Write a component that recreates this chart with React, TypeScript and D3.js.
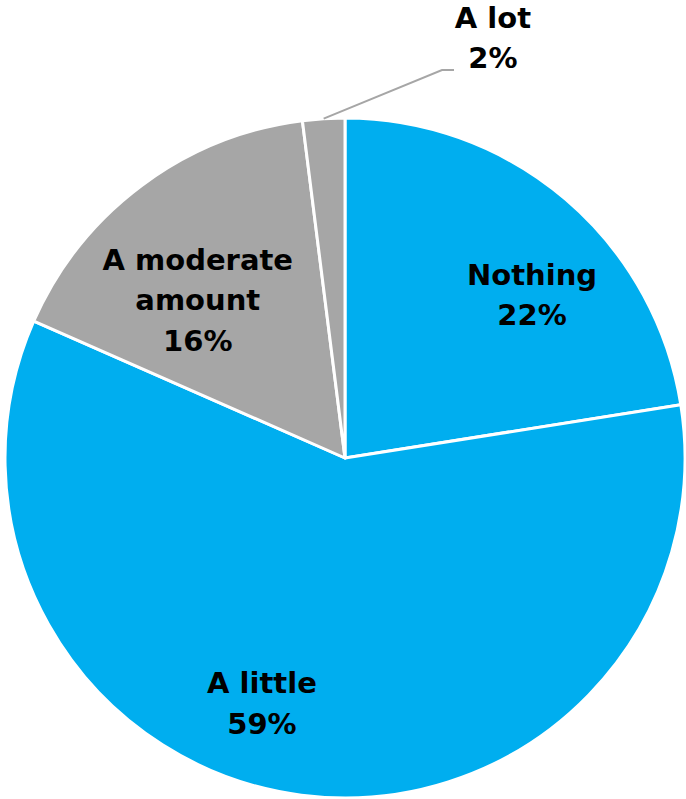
import React from "react";
import * as d3 from "d3";

const categories = ["Nothing", "A little", "A moderate amount", "A lot"];
const values = [22.5, 59.1, 16.4, 2.0];
const valueLabels = ["22%", "59%", "16%", "2%"];
const labelLines = [["Nothing"], ["A little"], ["A moderate", "amount"], ["A lot"]];
const colors = ["#00AEEF", "#00AEEF", "#A6A6A6", "#A6A6A6"];

const W = 686, H = 799;
const cx = 345, cy = 458, R = 340;
// label placement: angle (deg from top, clockwise) and radius fraction
const labelPlace = [
  { ang: 48.9, rf: 0.73 },
  { ang: 198.7, rf: 0.762 },
  { ang: 317, rf: 0.635 },
  { ang: 19.4, rf: 1.31 },
];

export default function App() {
  const pie = d3.pie<number>().sort(null).value((d) => d);
  const arcs = pie(values);
  const arc = d3.arc<d3.PieArcDatum<number>>().innerRadius(0).outerRadius(R);
  const lineH = 40.5;
  const fs = 29;
  return (
    <svg width={W} height={H} style={{ position: "absolute", left: 0, top: 0 }}>
      <g transform={`translate(${cx},${cy})`}>
        {arcs.map((a, i) => (
          <path key={i} d={arc(a) || ""} fill={colors[i]} stroke="#fff" strokeWidth={3} strokeLinejoin="round" />
        ))}
        {arcs.map((a, i) => {
          const p = labelPlace[i];
          const t = (p.ang * Math.PI) / 180;
          let x = Math.sin(t) * R * p.rf;
          let y = -Math.cos(t) * R * p.rf;
          const lines = [...labelLines[i], valueLabels[i]];
          const y0 = y - ((lines.length - 1) * lineH) / 2;
          return (
            <text key={i} x={x} textAnchor="middle" fontFamily="'DejaVu Sans', sans-serif" fontWeight={700} fontSize={fs} fill="#000">
              {lines.map((l, j) => (
                <tspan key={j} x={x} y={y0 + j * lineH} dominantBaseline="central">{l}</tspan>
              ))}
            </text>
          );
        })}
        {(() => {
          const a = arcs[3];
          const mid = (a.startAngle + a.endAngle) / 2;
          const sx = Math.sin(mid) * R, sy = -Math.cos(mid) * R;
          const ex = 97, ey = -388;
          return (
            <polyline points={`${sx},${sy} ${ex},${ey} ${ex + 12},${ey}`} fill="none" stroke="#A6A6A6" strokeWidth={2} />
          );
        })()}
      </g>
    </svg>
  );
}
